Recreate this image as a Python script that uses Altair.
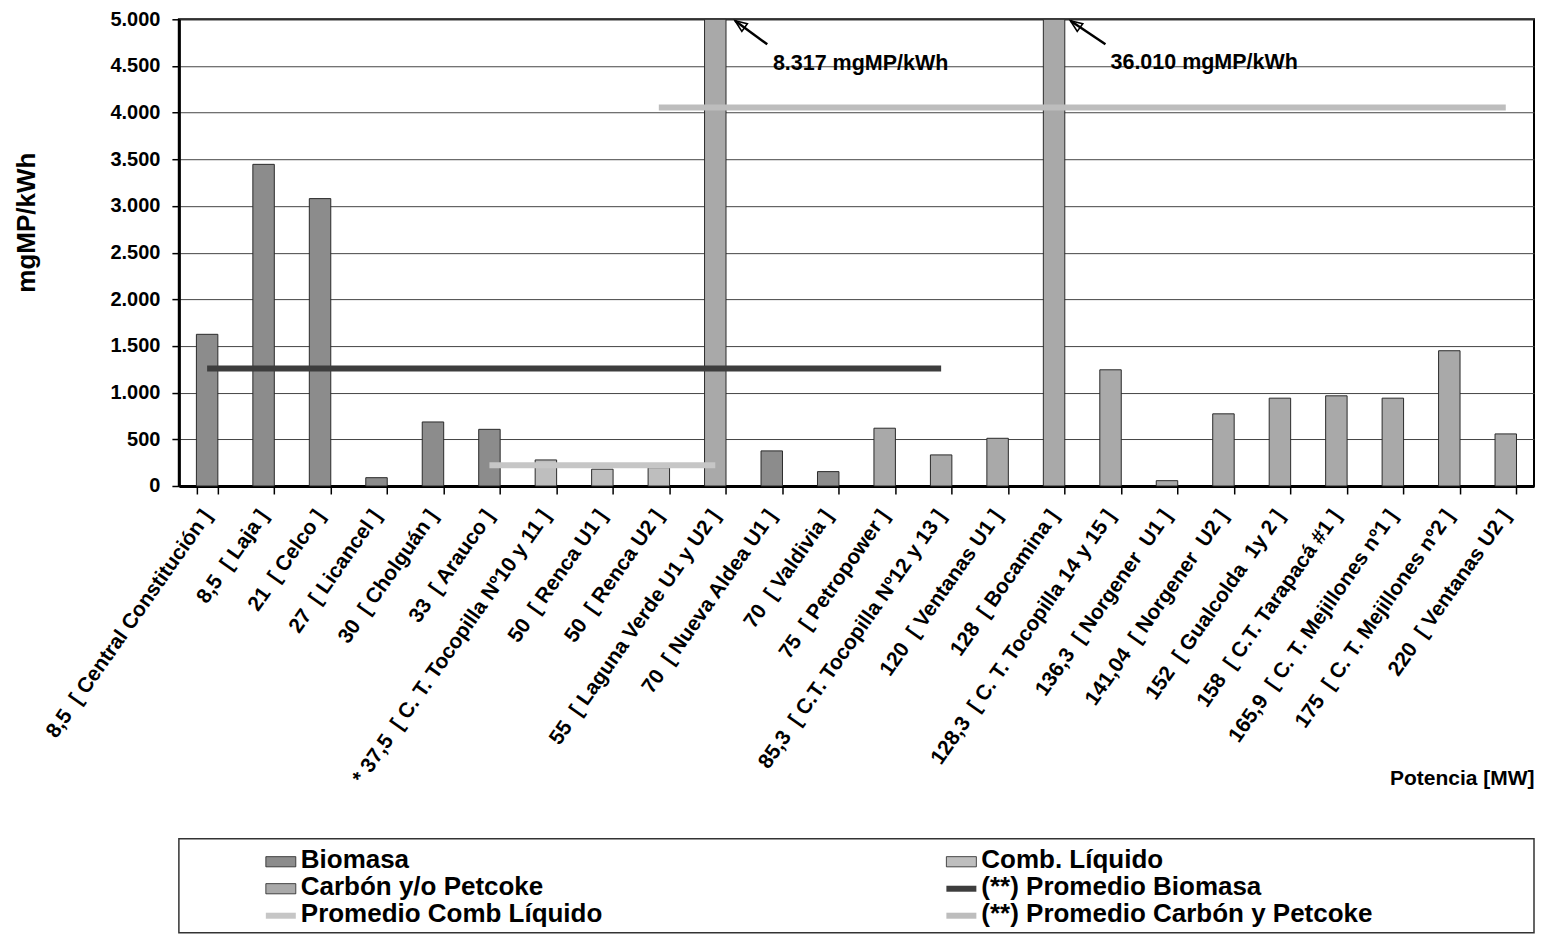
import altair as alt
import pandas as pd

# ---------------- data ----------------
S = "\u00a0\u00a0"  # double space kept visible in SVG text
categories = [
    f"8,5{S}[ Central Constitución ]",
    f"8,5{S}[ Laja ]",
    f"21{S}[ Celco ]",
    f"27{S}[ Licancel ]",
    f"30{S}[ Cholguán ]",
    f"33{S}[ Arauco ]",
    f"* 37,5{S}[ C. T. Tocopilla Nº10 y 11 ]",
    f"50{S}[ Renca U1 ]",
    f"50{S}[ Renca U2 ]",
    f"55{S}[ Laguna Verde U1 y U2 ]",
    f"70{S}[ Nueva Aldea U1 ]",
    f"70{S}[ Valdivia ]",
    f"75{S}[ Petropower ]",
    f"85,3{S}[ C.T. Tocopilla Nº12 y 13 ]",
    f"120{S}[ Ventanas U1 ]",
    f"128{S}[ Bocamina ]",
    f"128,3{S}[ C. T. Tocopilla 14 y 15 ]",
    f"136,3{S}[ Norgener{S}U1 ]",
    f"141,04{S}[ Norgener{S}U2 ]",
    f"152{S}[ Gualcolda{S}1y 2 ]",
    f"158{S}[ C.T. Tarapacá #1 ]",
    f"165,9{S}[ C. T. Mejillones nº1 ]",
    f"175{S}[ C. T. Mejillones nº2 ]",
    f"220{S}[ Ventanas U2 ]",
]
values = [1625, 3446, 3079, 89, 686, 607, 279, 180, 196, 8317, 376, 154,
          619, 333, 511, 36010, 1245, 57, 773, 941, 966, 941, 1449, 558]
types = (["Biomasa"] * 6 + ["Comb. Líquido"] * 3 + ["Carbón y/o Petcoke"]
         + ["Biomasa"] * 2 + ["Carbón y/o Petcoke"] * 12)

avg_series = ["(**) Promedio Biomasa", "Promedio Comb Líquido", "(**) Promedio Carbón y Petcoke"]
avg_values = [1260, 221, 4055]
avg_start = [0, 5, 8]      # category index where each average line starts
avg_end = [13, 9, 23]      # category index where each average line ends

ann_labels = ["8.317 mgMP/kWh", "36.010 mgMP/kWh"]
ann_x = [10.02, 16.0]
ann_y = [4518, 4529]
arrow_tail_x = [9.92, 15.91]
arrow_tail_y = [4732, 4732]
arrow_tip_x = [9.35, 15.29]
arrow_tip_y = [4985, 4985]

legend_labels = ["Biomasa", "Comb. Líquido", "Carbón y/o Petcoke",
                 "(**) Promedio Biomasa", "Promedio Comb Líquido",
                 "(**) Promedio Carbón y Petcoke"]
legend_col = [0, 1, 0, 1, 0, 1]
legend_row = [0, 0, 1, 1, 2, 2]
legend_kind = ["box", "box", "box", "line", "line", "line"]

# ---------------- styles / layout ----------------
palette = ["#8c8c8c", "#bebebe", "#a9a9a9", "#3d3d3d", "#c6c6c6", "#bdbdbd"]
FONT = "Liberation Sans"
W, H = 1356, 467
N = len(categories)

color_scale = alt.Scale(domain=legend_labels, range=palette)

# arrow-head symbol: tip sits at the top-left corner of the symbol box
HEAD_HALF = 6.2  # px
head_dx = HEAD_HALF / (W / N)          # px -> category units
head_dy = HEAD_HALF / H * 5000         # px -> value units

bars_df = pd.DataFrame({"cat": categories, "value": values, "tipo": types})
avg_df = pd.DataFrame({"serie": avg_series, "xi": avg_start, "xi2": avg_end, "value": avg_values})
arrow_df = pd.DataFrame({"xi": arrow_tail_x, "value": arrow_tail_y,
                         "xi2": arrow_tip_x, "value2": arrow_tip_y})
tip_df = pd.DataFrame({"xi": [v + head_dx for v in arrow_tip_x],
                       "value": [v - head_dy for v in arrow_tip_y]})
ann_df = pd.DataFrame({"txt": ann_labels, "xi": ann_x, "value": ann_y})
leg_df = pd.DataFrame({"label": legend_labels, "col": legend_col,
                       "row": legend_row, "kind": legend_kind})

y_enc = alt.Y(
    "value:Q", title="mgMP/kWh",
    scale=alt.Scale(domain=[0, 5000], nice=False, clamp=True, zero=True),
    axis=alt.Axis(
        values=list(range(0, 5001, 500)),
        labelExpr="replace(format(datum.value, ','), ',', '.')",
        labelFontSize=20, labelFontWeight="bold", labelPadding=12,
        labelColor="black",
        tickSize=7, tickColor="black", tickWidth=1.5,
        domainColor="black", domainWidth=3,
        gridColor="#444444", gridWidth=1,
        titleFontSize=26, titleFontWeight="bold", titleColor="black",
        titleAngle=270, titleX=-152, titleY=203,
        titleAlign="center", titleBaseline="middle",
    ),
)

x_band = alt.X(
    "cat:N", sort=categories, title="Potencia [MW]",
    scale=alt.Scale(paddingInner=0.62, paddingOuter=0.31),
    axis=alt.Axis(
        labelAngle=305, labelAlign="right", labelBaseline="middle",
        labelFontSize=21, labelFontWeight="bold", labelColor="black",
        labelPadding=18, labelLimit=700, labelOverlap=False,
        tickBand="extent", tickSize=8, tickColor="black", tickWidth=1.5,
        domainColor="black", domainWidth=3, grid=False,
        titleFontSize=21, titleFontWeight="bold", titleColor="black",
        titleX=W, titleY=293, titleAlign="right", titleBaseline="middle",
    ),
)

x_q = alt.X("xi:Q", scale=alt.Scale(domain=[-0.5, N - 0.5], nice=False, zero=False), axis=None)

bars = alt.Chart(bars_df).mark_bar(stroke="#2a2a2a", strokeWidth=1).encode(
    x=x_band,
    y=y_enc,
    color=alt.Color("tipo:N", scale=color_scale, legend=None),
)

avg_lines = alt.Chart(avg_df).mark_rule(strokeWidth=6).encode(
    x=x_q, x2="xi2:Q", y=y_enc,
    color=alt.Color("serie:N", scale=color_scale, legend=None),
)

arrows = alt.Chart(arrow_df).mark_rule(color="black", strokeWidth=2.5).encode(
    x=x_q, x2="xi2:Q", y=y_enc, y2="value2:Q",
)

head_path = "M-1,-1L0.986,-0.508L0.098,0.728Z"
heads = alt.Chart(tip_df).mark_point(
    shape=head_path, filled=False, size=(2 * HEAD_HALF) ** 2, color="black",
    strokeWidth=1.6, opacity=1
).encode(x=x_q, y=y_enc)

ann_text = alt.Chart(ann_df).mark_text(
    align="left", baseline="middle", fontSize=21.5, fontWeight="bold", font=FONT, color="black"
).encode(x=x_q, y=y_enc, text="txt:N")

top = alt.layer(
    bars,
    alt.layer(avg_lines, arrows, heads, ann_text),
).resolve_scale(x="independent").properties(
    width=W, height=H,
    view=alt.ViewBackground(stroke="black", strokeWidth=2),
)

# ---------------- legend panel ----------------
lx = alt.X("col:Q", scale=alt.Scale(domain=[0, 1], range=[102, 783]), axis=None)
ly = alt.Y("row:Q", scale=alt.Scale(domain=[0, 2], range=[23, 77]), axis=None)

box_path = "M-1,-0.34L1,-0.34L1,0.34L-1,0.34Z"
leg_boxes = alt.Chart(leg_df).transform_filter(alt.datum.kind == "box").mark_point(
    shape=box_path, filled=True, size=900, opacity=1, stroke="#222222", strokeWidth=0.8
).encode(x=lx, y=ly, fill=alt.Color("label:N", scale=color_scale, legend=None))

leg_lines = alt.Chart(leg_df).transform_filter(alt.datum.kind == "line").mark_point(
    shape="M-1,0L1,0", filled=False, size=900, opacity=1, strokeWidth=6
).encode(x=lx, y=ly, color=alt.Color("label:N", scale=color_scale, legend=None))

leg_text = alt.Chart(leg_df).mark_text(
    align="left", baseline="middle", dx=20, dy=-2, fontSize=26, fontWeight="bold",
    font=FONT, color="black"
).encode(x=lx, y=ly, text="label:N")

legend_panel = alt.layer(leg_boxes, leg_lines, leg_text).properties(
    width=W, height=94,
    view=alt.ViewBackground(stroke="#333333", strokeWidth=1.5),
)

chart = alt.vconcat(
    top, legend_panel, spacing=353, bounds="flush",
    padding={"left": 5, "top": 0, "right": 0, "bottom": 0},
).resolve_scale(x="independent", y="independent").configure(
    font=FONT,
).configure_axis(
    labelFont=FONT, titleFont=FONT,
)

chart.save("out.html", embed_options={"renderer": "svg", "actions": False})
